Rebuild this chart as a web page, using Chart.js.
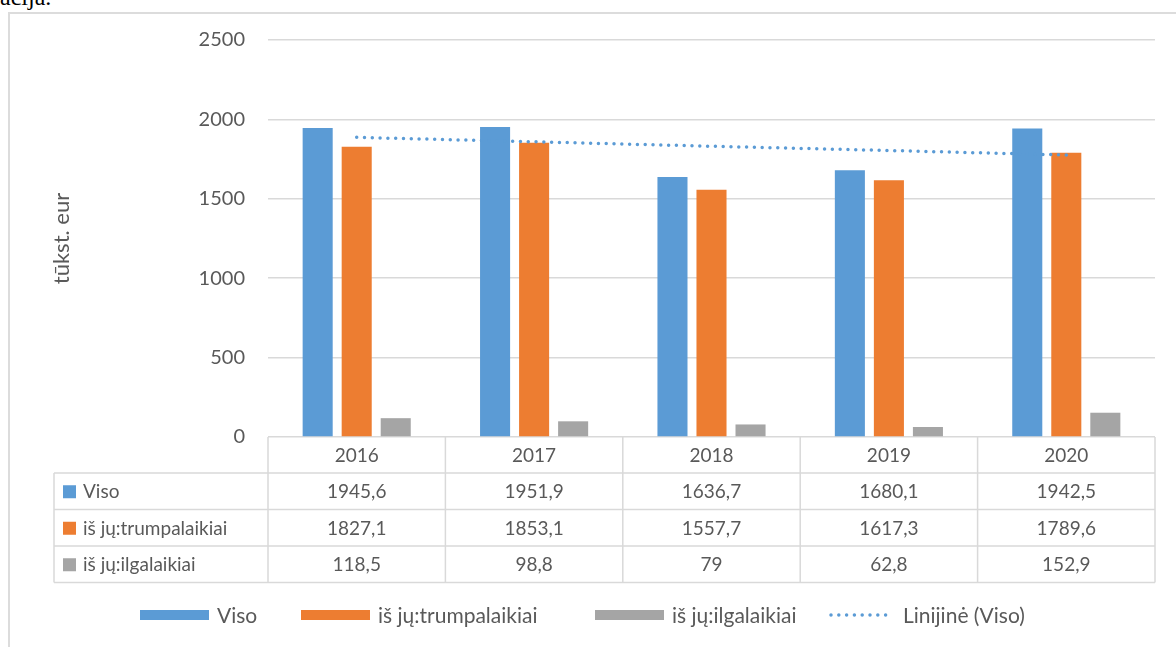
<!DOCTYPE html>
<html>
<head>
<meta charset="utf-8">
<script src="https://cdn.jsdelivr.net/npm/chart.js@4/dist/chart.umd.min.js"></script>
<style>
  body { margin: 0; background: #fff; overflow: hidden; width: 1176px; height: 647px; position: relative; }
  #prev { position: absolute; left: 0; top: -16px; font: 24px "Liberation Serif", serif; color: #000; }
  #frame { position: absolute; left: 8px; top: 12px; width: 1200px; height: 700px; border: 2px solid #dcdcdc; }
  #chart { position: absolute; left: 0; top: 0; }
</style>
</head>
<body>
<div id="prev">acija.</div>
<div id="frame"></div>
<canvas id="chart" width="1176" height="647"></canvas>
<script>
// duomenys
const years = ['2016', '2017', '2018', '2019', '2020'];
const viso = [1945.6, 1951.9, 1636.7, 1680.1, 1942.5];
const trumpalaikiai = [1827.1, 1853.1, 1557.7, 1617.3, 1789.6];
const ilgalaikiai = [118.5, 98.8, 79, 62.8, 152.9];
// taškinė tendencijos linija (nuskaityta nuo paveikslo)
const trendViso = [1887, 1859, 1831, 1804, 1776];
const yTicks = [0, 500, 1000, 1500, 2000, 2500];

const seriesNames = ['Viso', 'iš jų:trumpalaikiai', 'iš jų:ilgalaikiai', 'Linijinė (Viso)'];
const colors = ['#5b9bd5', '#ed7d31', '#a5a5a5'];
const textColor = '#595959';
const lineColor = '#d9d9d9';
const FONT = 'Lato, "Open Sans", sans-serif';
// legendos žymeklių pradžios taškai
const legendX = [140, 301, 595, 826];

// lentelė po grafiku
const tablePlugin = {
  id: 'dataTable',
  afterDraw(chart) {
    const ctx = chart.ctx;
    const xs = chart.scales.x;
    const ys = chart.scales.y;
    const left = xs.left, right = xs.right;
    const n = years.length;
    const colW = (right - left) / n;
    const top = ys.getPixelForValue(0);
    const headH = 36, rowH = 36.5;
    const labelLeft = 54;
    const rows = [viso, trumpalaikiai, ilgalaikiai];
    const bottom = top + headH + rowH * rows.length;

    ctx.save();
    ctx.strokeStyle = lineColor;
    ctx.lineWidth = 1.5;
    ctx.beginPath();
    for (let i = 0; i <= n; i++) {
      const x = left + i * colW;
      ctx.moveTo(x, top);
      ctx.lineTo(x, bottom);
    }
    ctx.moveTo(labelLeft, top + headH);
    ctx.lineTo(labelLeft, bottom);
    for (let r = 0; r <= rows.length; r++) {
      const y = top + headH + r * rowH;
      ctx.moveTo(labelLeft, y);
      ctx.lineTo(right, y);
    }
    ctx.stroke();

    ctx.fillStyle = textColor;
    ctx.font = '19px ' + FONT;
    ctx.textAlign = 'center';
    ctx.textBaseline = 'middle';
    years.forEach((yr, i) => {
      ctx.fillText(yr, xs.getPixelForValue(i), top + headH / 2 + 1);
    });
    rows.forEach((vals, r) => {
      const cy = top + headH + r * rowH + rowH / 2 + 1;
      vals.forEach((v, i) => {
        ctx.fillText(String(v).replace('.', ','), xs.getPixelForValue(i), cy);
      });
      ctx.fillStyle = colors[r];
      ctx.fillRect(63, cy - 7, 13, 13);
      ctx.fillStyle = textColor;
      ctx.textAlign = 'left';
      ctx.fillText(seriesNames[r], 83, cy);
      ctx.textAlign = 'center';
    });

    // legenda
    ctx.font = '21px ' + FONT;
    ctx.textAlign = 'left';
    const ly = 615;
    seriesNames.forEach((s, i) => {
      const x = legendX[i];
      if (i < 3) {
        ctx.fillStyle = colors[i];
        ctx.fillRect(x, ly - 5, 69, 10);
      } else {
        ctx.strokeStyle = colors[0];
        ctx.lineWidth = 3.5;
        ctx.lineCap = 'round';
        ctx.setLineDash([0, 7.8]);
        ctx.beginPath();
        ctx.moveTo(x + 5, ly);
        ctx.lineTo(x + 66, ly);
        ctx.stroke();
        ctx.setLineDash([]);
      }
      ctx.fillStyle = textColor;
      ctx.fillText(s, x + 77, ly + 1);
    });
    ctx.restore();
  }
};

const barOpts = { categoryPercentage: 0.66, barPercentage: 0.77, order: 1 };

new Chart(document.getElementById('chart'), {
  type: 'bar',
  data: {
    labels: years,
    datasets: [
      { type: 'line', label: seriesNames[3], data: trendViso, borderColor: colors[0],
        borderWidth: 3.5, borderDash: [0, 7.8], borderCapStyle: 'round', pointRadius: 0,
        fill: false, order: 0 },
      { label: seriesNames[0], data: viso, backgroundColor: colors[0], ...barOpts },
      { label: seriesNames[1], data: trumpalaikiai, backgroundColor: colors[1], ...barOpts },
      { label: seriesNames[2], data: ilgalaikiai, backgroundColor: colors[2], ...barOpts }
    ]
  },
  options: {
    responsive: false,
    animation: false,
    layout: { padding: { top: 40, left: 40, right: 21, bottom: 210 } },
    plugins: { legend: { display: false }, tooltip: { enabled: false } },
    scales: {
      x: { display: false },
      y: {
        min: 0, max: 2500,
        afterBuildTicks: s => { s.ticks = yTicks.map(v => ({ value: v })); },
        afterFit: s => { s.width = 228; },
        border: { display: false },
        grid: { color: lineColor, lineWidth: 1.5, drawTicks: false },
        ticks: { padding: 23, color: textColor, font: { family: FONT, size: 20 },
          callback: v => String(v) },
        title: { display: true, text: 'tūkst. eur', color: textColor,
          font: { family: FONT, size: 22 }, padding: { top: 9, bottom: 0 } }
      }
    }
  },
  plugins: [tablePlugin]
});
</script>
</body>
</html>
